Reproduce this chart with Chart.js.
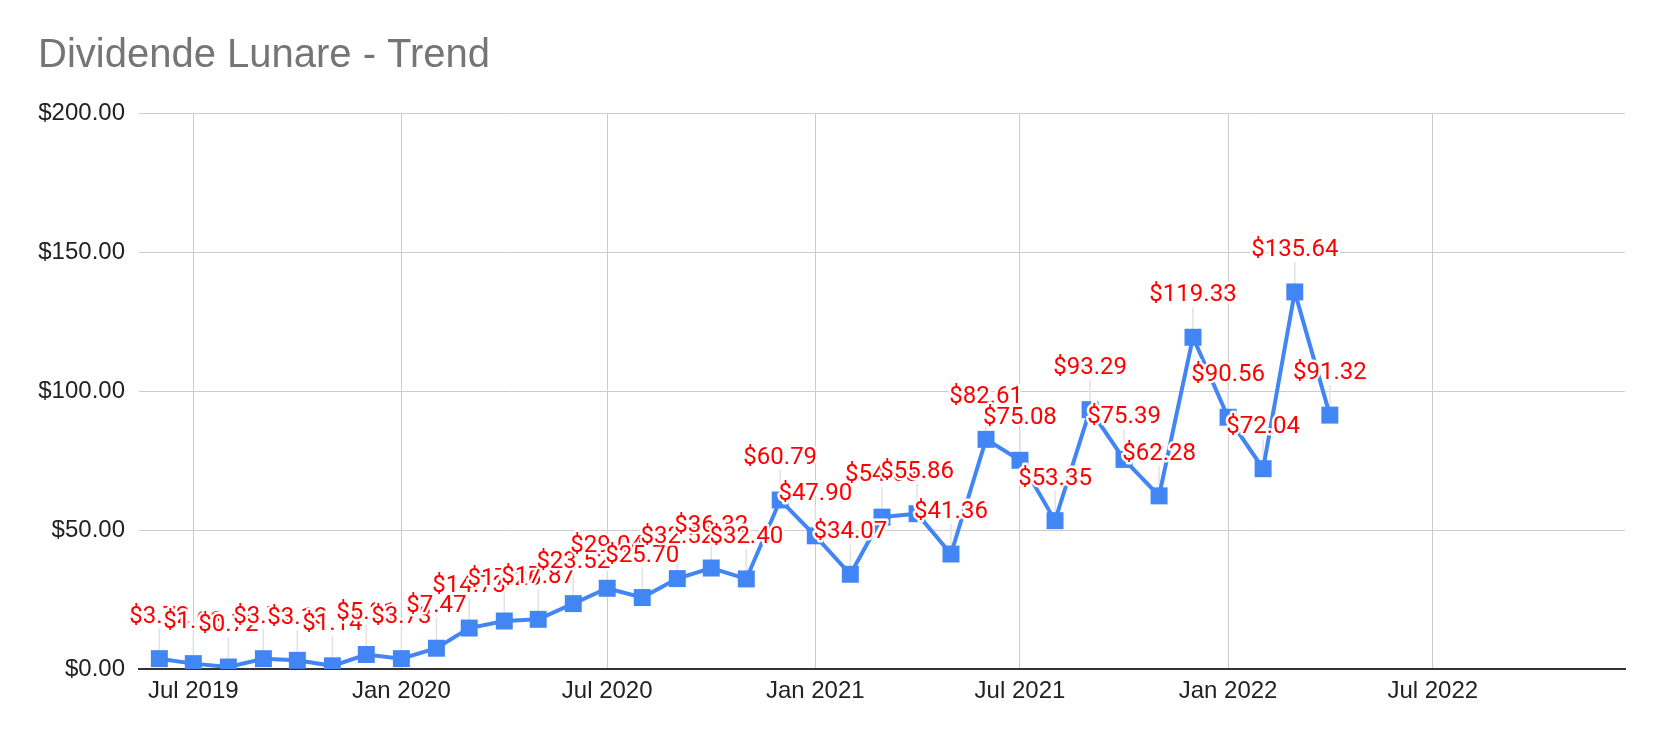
<!DOCTYPE html>
<html>
<head>
<meta charset="utf-8">
<title>Dividende Lunare - Trend</title>
<script src="https://cdn.jsdelivr.net/npm/chart.js@4.4.0/dist/chart.umd.min.js"></script>
<style>
  html, body { margin: 0; padding: 0; background: #ffffff; }
  canvas { display: block; }
</style>
</head>
<body>
<canvas id="chart" width="1662" height="742"></canvas>
<script>
// monthly dividend, first of each month
const months = [
  '2019-06', '2019-07', '2019-08', '2019-09', '2019-10', '2019-11', '2019-12',
  '2020-01', '2020-02', '2020-03', '2020-04', '2020-05', '2020-06', '2020-07',
  '2020-08', '2020-09', '2020-10', '2020-11', '2020-12', '2021-01', '2021-02',
  '2021-03', '2021-04', '2021-05', '2021-06', '2021-07', '2021-08', '2021-09',
  '2021-10', '2021-11', '2021-12', '2022-01', '2022-02', '2022-03', '2022-04'
];
const dividends = [
  3.72, 1.93, 0.72, 3.71, 3.13, 1.14, 5.21,
  3.73, 7.47, 14.73, 17.26, 17.87, 23.52, 29.04,
  25.70, 32.52, 36.32, 32.40, 60.79, 47.90, 34.07,
  54.63, 55.86, 41.36, 82.61, 75.08, 53.35, 93.29,
  75.39, 62.28, 119.33, 90.56, 72.04, 135.64, 91.32
];
const tickMonths = ['2019-07', '2020-01', '2020-07', '2021-01', '2021-07', '2022-01', '2022-07'];
const tickLabels = ['Jul 2019', 'Jan 2020', 'Jul 2020', 'Jan 2021', 'Jul 2021', 'Jan 2022', 'Jul 2022'];
const yTicks = [0, 50, 100, 150, 200];

const toTime = (m) => {
  const [y, mo] = m.split('-').map(Number);
  return Date.UTC(y, mo - 1, 1);
};
const money = (v) => '$' + Number(v).toFixed(2);

const axisFont = { family: "'Liberation Sans', Arial, sans-serif", size: 24 };

// leader lines under the markers, red labels with a white halo on top
const pointLabels = {
  id: 'pointLabels',
  beforeDatasetsDraw(chart) {
    const ctx = chart.ctx;
    const meta = chart.getDatasetMeta(0);
    ctx.save();
    ctx.strokeStyle = '#e2e2e2';
    ctx.lineWidth = 1.5;
    meta.data.forEach((pt) => {
      ctx.beginPath();
      ctx.moveTo(pt.x, pt.y - 30);
      ctx.lineTo(pt.x, pt.y);
      ctx.stroke();
    });
    ctx.restore();
  },
  afterDatasetsDraw(chart) {
    const ctx = chart.ctx;
    const meta = chart.getDatasetMeta(0);
    ctx.save();
    ctx.font = "24px Roboto, 'Noto Sans', sans-serif";
    ctx.textAlign = 'center';
    ctx.textBaseline = 'alphabetic';
    ctx.lineJoin = 'round';
    ctx.lineWidth = 5;
    meta.data.forEach((pt, i) => {
      const text = money(dividends[i]);
      ctx.strokeStyle = '#ffffff';
      ctx.strokeText(text, pt.x, pt.y - 36);
      ctx.fillStyle = '#ff0000';
      ctx.fillText(text, pt.x, pt.y - 36);
    });
    ctx.restore();
  }
};

const chart = new Chart(document.getElementById('chart'), {
  type: 'line',
  data: {
    datasets: [{
      label: 'Dividende Lunare',
      data: months.map((m, i) => ({ x: toTime(m), y: dividends[i] })),
      borderColor: '#4285f4',
      backgroundColor: '#4285f4',
      borderWidth: 4,
      pointStyle: 'rect',
      pointRadius: 12,
      pointHoverRadius: 12,
      pointBorderWidth: 0,
      tension: 0,
      clip: { left: false, top: false, right: false, bottom: 0 }
    }]
  },
  options: {
    responsive: false,
    animation: false,
    devicePixelRatio: 1,
    layout: { padding: { left: 38, right: 37, top: 0, bottom: 0 } },
    plugins: {
      legend: { display: false },
      tooltip: { enabled: false },
      title: {
        display: true,
        text: 'Dividende Lunare - Trend',
        align: 'start',
        color: '#757575',
        font: { family: "'Liberation Sans', Arial, sans-serif", size: 40, weight: 'normal' },
        padding: { top: 32, bottom: 33 }
      }
    },
    scales: {
      x: {
        type: 'linear',
        min: Date.UTC(2019, 4, 14),
        max: Date.UTC(2022, 11, 18),
        afterBuildTicks: (scale) => {
          scale.ticks = tickMonths.map((m) => ({ value: toTime(m) }));
        },
        afterFit: (scale) => { scale.height = 73; },
        ticks: {
          autoSkip: false,
          maxRotation: 0,
          padding: 8,
          color: '#222222',
          font: axisFont,
          callback: (value, index) => tickLabels[index]
        },
        grid: { color: '#cccccc', lineWidth: 1, drawTicks: false },
        border: { color: '#333333', width: 2 }
      },
      y: {
        min: 0,
        max: 200,
        afterBuildTicks: (scale) => {
          scale.ticks = yTicks.map((v) => ({ value: v }));
        },
        afterFit: (scale) => { scale.width = 101; },
        ticks: {
          padding: 14,
          color: '#222222',
          font: axisFont,
          callback: (value) => money(value)
        },
        grid: { color: '#cccccc', lineWidth: 1, drawTicks: false },
        border: { display: false }
      }
    }
  },
  plugins: [pointLabels]
});
</script>
</body>
</html>
